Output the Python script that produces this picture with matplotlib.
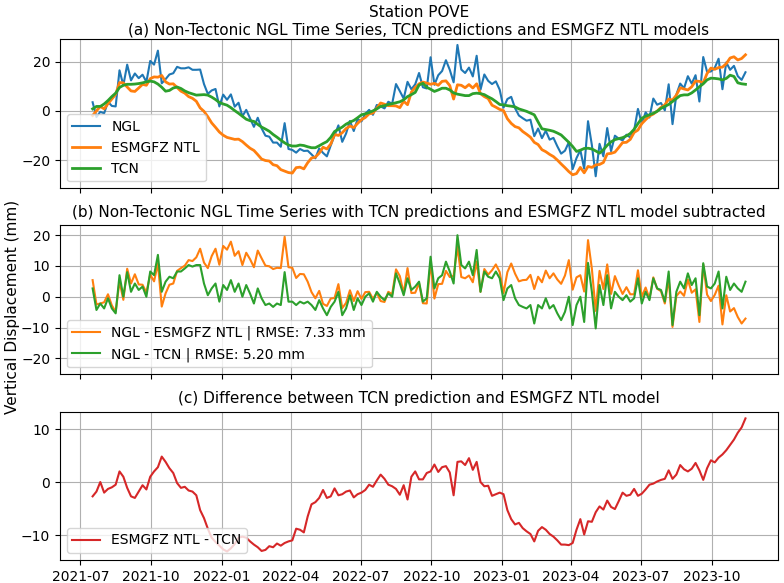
import numpy as np
import matplotlib
matplotlib.use("Agg")
import matplotlib.pyplot as plt
import matplotlib.dates as mdates

# ---- data (5-day sampling) ----
start_date = "2021-07-17"
step_days = 5

tcn = [0.8, 1.8, 1.8, 2.8, 4.2, 5.8, 7.2, 9.5, 10.4, 10.8,
       10.8, 10.9, 11.1, 11.4, 11.8, 12.1, 11.8, 10.9, 9.6, 8.0,
       8.3, 9.3, 9.7, 9.1, 8.1, 7.4, 6.9, 6.4, 6.5, 6.6,
       6.4, 5.6, 4.6, 3.4, 2.8, 2.3, 1.3, 0.1, -1.0, -2.2,
       -3.4, -4.0, -4.3, -5.5, -6.6, -7.4, -8.3, -9.6, -10.7, -11.9,
       -13.0, -13.9, -14.3, -14.3, -13.9, -14.1, -14.6, -15.0, -15.0, -14.2,
       -13.3, -12.5, -10.8, -8.4, -7.5, -6.6, -5.4, -4.6, -3.9, -2.8,
       -1.6, -1.2, -0.7, 0.0, 0.8, 1.8, 2.1, 2.6, 2.9, 3.3,
       3.7, 4.5, 5.8, 6.6, 7.5, 10.5, 11.2, 9.6, 8.8, 7.9,
       8.5, 9.2, 9.2, 8.5, 7.3, 6.8, 6.5, 6.2, 6.2, 7.0,
       7.2, 7.0, 6.6, 5.7, 4.9, 3.8, 2.6, 2.4, 2.1, 1.9,
       1.6, 0.8, 0.3, -0.2, -0.9, -1.6, -4.5, -7.3, -7.6, -7.9,
       -8.3, -9.0, -9.8, -11.3, -12.8, -14.5, -16.5, -16.0, -15.3, -15.2,
       -15.5, -16.3, -17.2, -15.8, -14.0, -12.6, -11.7, -11.3, -10.9, -10.2,
       -9.2, -7.5, -5.2, -3.0, -2.2, -1.6, -1.0, -0.2, 1.0, 1.8,
       2.6, 3.8, 5.0, 6.2, 6.5, 6.5, 7.3, 8.5, 9.8, 11.0,
       12.6, 13.3, 13.2, 13.0, 12.6, 13.2, 14.5, 14.0, 11.4, 11.0, 10.8]

esm_minus_tcn = [-2.7, -1.8, 0.0, -2.0, -1.3, -1.0, -0.5, 2.0, 1.0, -1.1,
                 -2.7, -3.0, -1.8, -0.6, -1.4, 1.0, 2.0, 2.8, 4.8, 3.8,
                 2.6, 1.7, -0.2, -1.1, -0.9, -1.6, -1.8, -2.5, -5.3, -6.8,
                 -8.8, -10.5, -11.3, -12.0, -12.7, -13.1, -12.5, -11.7, -10.5, -10.3,
                 -10.5, -11.2, -11.8, -12.3, -13.0, -12.8, -12.1, -12.3, -11.6, -12.0,
                 -11.5, -11.2, -11.0, -8.8, -9.0, -9.5, -6.5, -4.2, -3.8, -3.0,
                 -1.5, -3.0, -2.7, -1.2, -2.5, -2.3, -1.8, -1.6, -2.9, -2.3,
                 -2.0, -1.5, -0.5, -0.9, 0.3, 1.4, 0.6, -0.5, -0.8, -1.3,
                 -2.4, -0.6, -3.3, 1.0, 2.0, 0.5, 0.5, 1.7, 2.0, 3.3,
                 1.9, 2.8, 3.0, 1.8, -2.5, 3.8, 3.9, 3.2, 4.5, 2.3,
                 3.8, 0.0, -0.8, -0.7, -2.6, -2.3, -2.0, -2.3, -5.3, -7.0,
                 -8.0, -7.7, -8.7, -9.3, -9.8, -11.2, -9.2, -8.5, -9.0, -9.8,
                 -10.3, -11.0, -11.8, -11.8, -11.9, -11.5, -9.0, -7.0, -9.9, -7.4,
                 -7.5, -5.7, -4.6, -5.2, -3.5, -4.7, -5.1, -3.6, -2.0, -2.6,
                 -2.4, -1.3, -2.6, -2.2, -1.4, -0.5, -0.3, 0.1, 0.4, 0.6,
                 2.2, 0.6, 1.4, 3.2, 2.4, 2.0, 2.5, 3.6, 2.2, 0.4,
                 2.6, 4.1, 3.7, 4.6, 5.2, 6.0, 7.0, 8.0, 9.3, 10.3, 12.0]

ngl_minus_tcn = [2.7, -4.3, -2.2, -3.8, -0.5, -3.8, -5.4, 7.0, 0.0, 8.0,
                 1.6, 4.3, 2.2, 3.3, 0.0, 8.2, 7.0, 13.6, 1.6, 4.9,
                 6.5, 6.0, 8.2, 8.2, 9.2, 10.3, 9.8, 10.3, 10.3, 4.3,
                 0.5, 2.7, 4.3, -1.6, 3.8, 2.2, 5.4, 1.6, 4.3, 0.0,
                 3.8, 1.0, -2.2, 2.7, -0.5, -2.7, -2.2, -3.3, -2.2, -2.7,
                 8.0, -1.6, -1.6, -2.7, -1.6, -2.2, -1.6, -2.7, -4.3, -1.1,
                 -3.8, -6.0, -3.3, -1.6, 1.6, -6.0, -3.8, 0.5, -4.3, -0.5,
                 -2.7, 0.0, 1.1, -1.6, 1.6, 0.0, -1.1, 1.1, 0.0, 7.6,
                 4.3, 0.5, 6.0, 2.2, 3.3, 4.9, -1.6, -0.5, 13.0, 2.7,
                 6.0, 7.0, 11.4, 8.2, 4.3, 20.0, 10.3, 9.2, 11.4, 7.0,
                 15.2, 1.6, 8.2, 6.5, 6.0, 8.2, 6.0, -1.1, 2.7, 3.8,
                 -0.5, -2.7, -3.3, -3.8, -2.7, -8.7, -2.7, -3.8, -0.5, -3.8,
                 -2.7, -5.4, -7.6, -4.9, 0.0, -9.2, -2.7, 0.0, -8.2, 11.0,
                 1.6, -10.3, 3.8, -2.7, 7.0, -3.8, 1.6, 0.0, -1.1, 0.5,
                 -1.6, -0.5, 6.0, -2.2, 1.6, -1.1, 6.0, 2.7, 2.2, -1.6,
                 8.2, -9.2, 1.6, 4.9, 2.7, 7.6, 3.8, 6.0, -6.0, 10.9,
                 3.3, 2.7, 4.3, 8.2, -3.8, 6.5, 2.2, 4.3, 2.7, 1.6, 4.9]

rmse_esm = 7.33
rmse_tcn = 5.20
station = "POVE"

# ---- derived series ----
tcn_a = np.array(tcn)
c_a = np.array(esm_minus_tcn)
d_a = np.array(ngl_minus_tcn)
ngl = tcn_a + d_a
esm = tcn_a + c_a
ngl_minus_esm = ngl - esm
dates = np.datetime64(start_date) + np.arange(len(tcn)) * np.timedelta64(step_days, "D")

# ---- figure ----
fig = plt.figure(figsize=(7.84, 5.83), dpi=100)
L, W = 0.0765, 0.916
ax1 = fig.add_axes([L, 0.677, W, 0.256])
ax2 = fig.add_axes([L, 0.358, W, 0.256], sharex=ax1)
ax3 = fig.add_axes([L, 0.0395, W, 0.2543], sharex=ax1)

ax1.plot(dates, ngl, color="tab:blue", lw=1.5, label="NGL")
ax1.plot(dates, esm, color="tab:orange", lw=2, label="ESMGFZ NTL")
ax1.plot(dates, tcn_a, color="tab:green", lw=2, label="TCN")
ax1.set_ylim(-31.5, 29.2)
ax1.set_title(f"Station {station}\n(a) Non-Tectonic NGL Time Series, TCN predictions and ESMGFZ NTL models",
              fontsize=11, pad=3)
ax1.legend(loc="lower left")

ax2.plot(dates, ngl_minus_esm, color="tab:orange", lw=1.5,
         label=f"NGL - ESMGFZ NTL | RMSE: {rmse_esm:.2f} mm")
ax2.plot(dates, d_a, color="tab:green", lw=1.5,
         label=f"NGL - TCN | RMSE: {rmse_tcn:.2f} mm")
ax2.set_ylim(-25.2, 23.3)
ax2.set_yticks([-20, -10, 0, 10, 20])
ax2.set_title("(b) Non-Tectonic NGL Time Series with TCN predictions and ESMGFZ NTL model subtracted",
              fontsize=11)
ax2.legend(loc="lower left")
ax2.set_ylabel("Vertical Displacement (mm)", fontsize=11)
ax2.yaxis.set_label_coords(-0.056, 0.45)

ax3.plot(dates, c_a, color="tab:red", lw=1.5, label="ESMGFZ NTL - TCN")
ax3.set_ylim(-14.7, 13.26)
ax3.set_title("(c) Difference between TCN prediction and ESMGFZ NTL model", fontsize=11)
ax3.legend(loc="lower left")

for ax in (ax1, ax2, ax3):
    ax.grid(True)
ax1.tick_params(labelbottom=False)
ax2.tick_params(labelbottom=False)
ax3.xaxis.set_major_locator(mdates.MonthLocator(bymonth=[1, 4, 7, 10]))
ax3.xaxis.set_major_formatter(mdates.DateFormatter("%Y-%m"))

fig.savefig("out.png", dpi=100)
